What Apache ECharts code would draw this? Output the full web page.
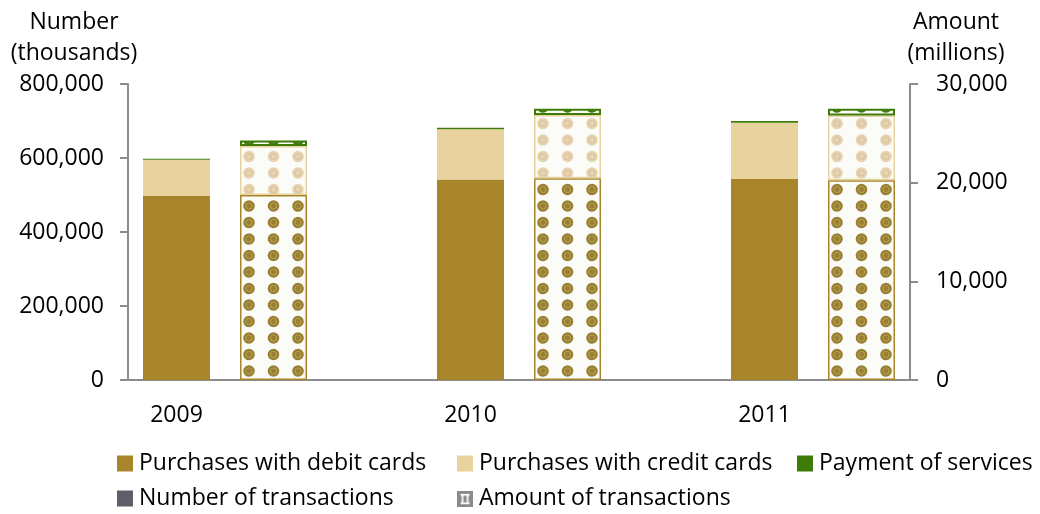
<!DOCTYPE html>
<html><head><meta charset="utf-8">
<script src="https://cdn.jsdelivr.net/npm/echarts@6/dist/echarts.min.js"></script>
<style>html,body{margin:0;padding:0;background:#fff}#c{width:1040px;height:514px}</style>
</head><body><div id="c"></div>
<script>
// ---- data ----
const categories = ['2009', '2010', '2011'];
const numDebit = [497000, 542000, 543000];
const numCredit = [98000, 136000, 152000];
const numServices = [3000, 4000, 5000];
const amtDebit = [18750, 20450, 20250];
const amtCredit = [4970, 6400, 6550];
const amtServices = [550, 650, 700];
const numberAxis = { min: 0, max: 800000, interval: 200000 };
const amountAxis = { min: 0, max: 30000, interval: 10000 };
const seriesNames = ['Purchases with debit cards', 'Purchases with credit cards', 'Payment of services'];
const extraLegend = ['Number of transactions', 'Amount of transactions'];

// ---- styles ----
const FONT = 'Open Sans';
const C_DEBIT = '#A8852B', C_CREDIT = '#E8D29E', C_SERV = '#3E7B08';

function dotPattern(fill, ring) {
  const cv = document.createElement('canvas');
  cv.width = 49; cv.height = 33;
  const g = cv.getContext('2d');
  g.fillStyle = '#FBFCF8'; g.fillRect(0, 0, 49, 33);
  const pts = [[4, 8], [28.5, 8], [4, 24.5], [28.5, 24.5]];
  for (const [px, py] of pts) {
    for (const dx of [-49, 0, 49]) for (const dy of [-33, 0, 33]) {
      const x = px + dx, y = py + dy;
      g.beginPath(); g.arc(x, y, 5.8, 0, Math.PI * 2); g.fillStyle = fill; g.fill();
      g.beginPath(); g.arc(x, y, 3.0, 0, Math.PI * 2); g.strokeStyle = ring; g.lineWidth = 1.2; g.stroke();
    }
  }
  return { image: cv, repeat: 'repeat' };
}
function amountIcon() {
  const cv = document.createElement('canvas');
  cv.width = 14; cv.height = 14;
  const g = cv.getContext('2d');
  g.fillStyle = '#8A8A8A'; g.fillRect(0, 0, 14, 14);
  g.fillStyle = '#FFFFFF';
  g.fillRect(3, 3, 8, 1.5);
  g.fillRect(4, 4, 1.5, 7); g.fillRect(8.5, 4, 1.5, 7);
  g.fillRect(3, 10.5, 8, 1.5);
  return 'image://' + cv.toDataURL();
}
const P_DEBIT = dotPattern('#977F33', '#B59A4C');
const P_CREDIT = dotPattern('#E7D2B2', '#DCC39C');
const P_SERV = dotPattern('#3E7B10', '#5A9030');

const fmt = v => v.toLocaleString('en-US');
const axisGray = '#8C8C8C';

const numVals = [numDebit, numCredit, numServices];
const amtVals = [amtDebit, amtCredit, amtServices];
const solid = [C_DEBIT, C_CREDIT, C_SERV];
const pats = [P_DEBIT, P_CREDIT, P_SERV];
const borders = [1.5, 1.5, 2];

const series = [];
for (let i = 0; i < 3; i++) {
  series.push({
    name: seriesNames[i], type: 'bar', stack: 'num', xAxisIndex: 0, yAxisIndex: 0,
    barWidth: 67, barGap: '44.8%', data: numVals[i],
    itemStyle: { color: solid[i] }, emphasis: { disabled: true }
  });
}
for (let i = 0; i < 3; i++) {
  series.push({
    name: seriesNames[i], type: 'bar', stack: 'amt', xAxisIndex: 0, yAxisIndex: 1,
    barWidth: 67, barGap: '44.8%', data: amtVals[i],
    itemStyle: { color: pats[i], borderColor: solid[i], borderWidth: borders[i] },
    emphasis: { disabled: true }
  });
}
series.push({ name: extraLegend[0], type: 'bar', xAxisIndex: 1, yAxisIndex: 2, data: [], itemStyle: { color: '#5F5E69' } });
series.push({ name: extraLegend[1], type: 'bar', xAxisIndex: 1, yAxisIndex: 2, data: [], itemStyle: { color: '#8A8A8A' } });

function legendAt(left, top, item) {
  return {
    left: left, top: top, padding: 0, itemWidth: 16, itemHeight: 16, itemGap: 0, icon: 'rect',
    selectedMode: false, data: [item],
    textStyle: { fontFamily: FONT, fontSize: 23, color: '#000', padding: [0, 0, 0, 1] }
  };
}
const row1 = 452, row2 = 487;
const colX = [117, 457, 797];

const option = {
  animation: false,
  backgroundColor: '#fff',
  textStyle: { fontFamily: FONT },
  grid: [
    { left: 78, right: 80, top: 84, bottom: 134 },
    { left: 128, right: 130, top: 84, bottom: 134 }
  ],
  xAxis: [
    { type: 'category', gridIndex: 0, data: categories, axisLine: { show: false }, axisTick: { show: false },
      axisLabel: { fontFamily: FONT, fontSize: 23, color: '#000', margin: 24, padding: [0, 97, 0, 0] } },
    { type: 'category', gridIndex: 1, data: [''], axisLine: { lineStyle: { color: axisGray, width: 2 } },
      axisTick: { show: false }, axisLabel: { show: false } }
  ],
  yAxis: [
    Object.assign({ type: 'value', gridIndex: 0, show: false, position: 'left' }, numberAxis),
    Object.assign({ type: 'value', gridIndex: 0, show: false, position: 'right' }, amountAxis),
    Object.assign({ type: 'value', gridIndex: 1, position: 'left',
      axisLine: { show: true, lineStyle: { color: axisGray, width: 2 } },
      axisTick: { show: true, length: 8, lineStyle: { color: axisGray, width: 2 } },
      axisLabel: { fontFamily: FONT, fontSize: 23, color: '#000', margin: 24, formatter: fmt },
      splitLine: { show: false } }, numberAxis),
    Object.assign({ type: 'value', gridIndex: 1, position: 'right',
      axisLine: { show: true, lineStyle: { color: axisGray, width: 2 } },
      axisTick: { show: true, length: 8, lineStyle: { color: axisGray, width: 2 } },
      axisLabel: { fontFamily: FONT, fontSize: 23, color: '#000', margin: 26, formatter: fmt },
      splitLine: { show: false } }, amountAxis)
  ],
  legend: [
    legendAt(colX[0], row1, seriesNames[0]),
    legendAt(colX[1], row1, seriesNames[1]),
    legendAt(colX[2], row1, seriesNames[2]),
    legendAt(colX[0], row2, extraLegend[0]),
    legendAt(colX[1], row2, { name: extraLegend[1], icon: amountIcon() })
  ],
  graphic: [
    { type: 'text', x: 74, y: 38, style: { text: 'Number\n(thousands)', fontFamily: FONT, fontSize: 23, lineHeight: 31, fill: '#000', align: 'center', verticalAlign: 'middle' } },
    { type: 'text', x: 956, y: 38, style: { text: 'Amount\n(millions)', fontFamily: FONT, fontSize: 23, lineHeight: 31, fill: '#000', align: 'center', verticalAlign: 'middle' } }
  ],
  series: series
};
const chart = echarts.init(document.getElementById('c'), null, { renderer: 'canvas' });
chart.setOption(option);
</script></body></html>
